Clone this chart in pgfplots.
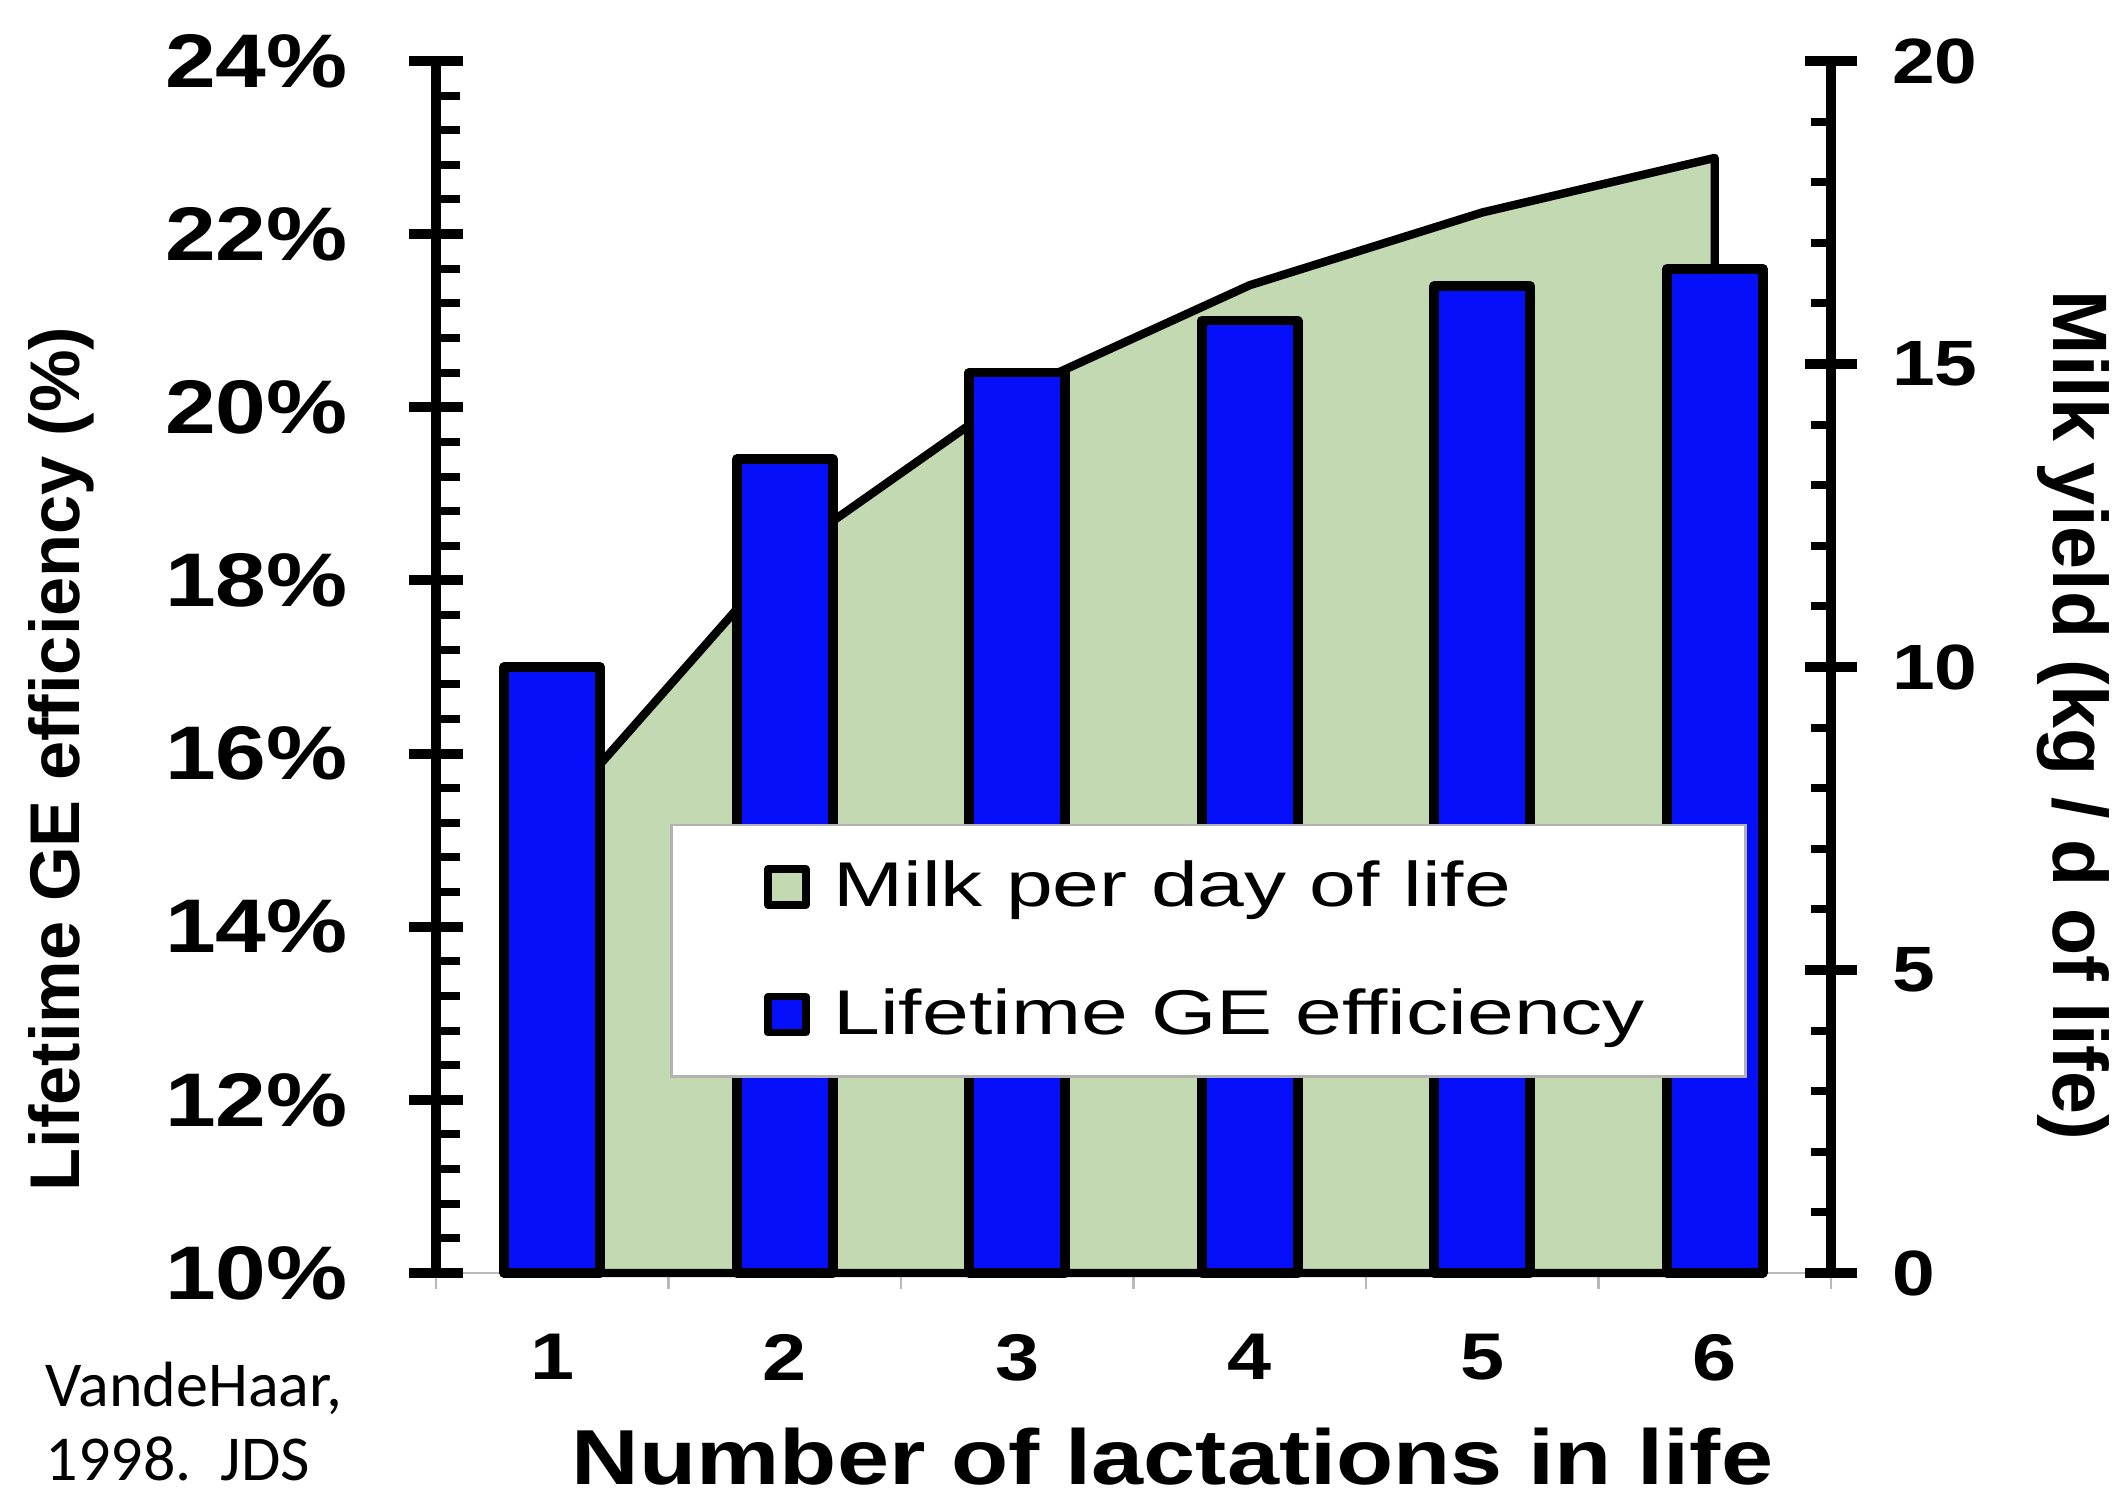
\documentclass[border=0pt]{standalone}
\usepackage{pgfplots}
\pgfplotsset{compat=1.18}
\usepackage{fontspec}
\setmainfont{Liberation Sans}[FakeStretch=1.2]
\newfontfamily\plainfont{Liberation Sans}
\newfontfamily\legfont{Liberation Sans}[FakeStretch=1.33]
\newfontfamily\citefont{Carlito}
\definecolor{areagreen}{RGB}{195,217,178}
\definecolor{barblue}{RGB}{5,15,250}
\pgfplotsset{
  common/.style={
    scale only axis, width=348.75pt, height=303pt,
    at={(0pt,0pt)}, anchor=south west,
    xmin=0.5, xmax=6.5,
    /pgf/number format/assume math mode=true,
  }
}
\begin{document}
\begin{tikzpicture}
\path[use as bounding box] (-109pt,-55.75pt) rectangle (422pt,318.25pt);
% gray baseline with category separators
\begin{axis}[common, ymin=0, ymax=1,
  axis y line=none, axis x line*=bottom,
  x axis line style={draw=gray!55, line width=0.7pt},
  xtick={0.5,1.5,2.5,3.5,4.5,5.5,6.5}, xticklabels={},
  tick align=center, major tick length=8pt,
  major x tick style={draw=gray!55, line width=0.7pt}]
\addplot[draw=none, forget plot] coordinates {(1,0.5)};
\end{axis}
% area on right axis
\begin{axis}[common, ymin=0, ymax=20, clip=false,
  axis x line=none, axis y line*=right,
  ytick={0,5,10,15,20}, minor y tick num=4,
  tick align=center, major tick length=12.8pt, minor tick length=5pt,
  major y tick style={line width=2.5pt, black},
  minor y tick style={xshift=-2.5pt, line width=2pt, black},
  y axis line style={line width=2.5pt, black},
  yticklabel style={anchor=west, inner sep=0pt, xshift=8.7pt, font=\bfseries\fontsize{16}{16}\selectfont},
  ylabel={Milk yield (kg / d of life)},
  every axis y label/.style={at={(axis description cs:1,0.46)}, xshift=60.5pt, rotate=-90, anchor=center, inner sep=0pt, font=\plainfont\bfseries\fontsize{19.3}{20}\selectfont}]
\addplot[fill=areagreen, draw=black, line width=2.1pt, line join=round] coordinates {(1,7.5) (2,11.85) (3,14.55) (4,16.3) (5,17.5) (6,18.4)} \closedcycle;
\end{axis}
% bars on left axis
\begin{axis}[common, ymin=0, ymax=14, clip=false,
  axis y line*=left, axis x line*=bottom,
  x axis line style={draw=none},
  major x tick style={draw=none},
  xtick={1,2,3,4,5,6},
  xticklabel style={anchor=north, inner sep=0pt, yshift=-8.5pt, font=\bfseries\fontsize{16.5}{16.5}\selectfont},
  ytick={0,2,4,6,8,10,12,14},
  yticklabels={10\%,12\%,14\%,16\%,18\%,20\%,22\%,24\%},
  minor y tick num=4,
  tick align=center, major tick length=13.4pt, minor tick length=6pt,
  major y tick style={line width=2.5pt, black},
  minor y tick style={xshift=3pt, line width=2pt, black},
  y axis line style={line width=2.5pt, black},
  yticklabel style={anchor=east, inner sep=0pt, xshift=-15.2pt, font=\bfseries\fontsize{19}{19}\selectfont},
  y filter/.expression={y-10},
  xlabel={Number of lactations in life},
  every axis x label/.style={at={(axis description cs:0.528,0)}, anchor=north, yshift=-38.5pt, inner sep=0pt, font=\bfseries\fontsize{19.5}{19.5}\selectfont},
  ylabel={Lifetime GE efficiency (\%)},
  every axis y label/.style={at={(axis description cs:0,0.424)}, xshift=-93.75pt, rotate=90, anchor=center, inner sep=0pt, font=\plainfont\bfseries\fontsize{17.6}{18}\selectfont},
  legend style={at={(axis description cs:0.168,0.161)}, anchor=south west,
    draw=gray!60, line width=0.6pt, fill=white,
    inner xsep=23.2pt, inner ysep=7pt, row sep=15pt,
    font=\legfont\fontsize{15.8}{15.8}\selectfont,
    /tikz/every odd column/.append style={column sep=4pt}},
  legend cell align=left]
\addlegendimage{legend image code/.code={\draw[line width=1.8pt, fill=areagreen, draw=black, line join=round] (0pt,-4.5pt) rectangle (9.5pt,4.5pt);}}
\addlegendentry{Milk per day of life}
\addlegendimage{legend image code/.code={\draw[line width=1.8pt, fill=barblue, draw=black, line join=round] (0pt,-4.5pt) rectangle (9.5pt,4.5pt);}}
\addlegendentry{Lifetime GE efficiency}
\addplot[ybar, bar width=0.413, fill=barblue, draw=black, line width=2.4pt, line join=round, forget plot] coordinates {(1,17.0) (2,19.4) (3,20.4) (4,21.0) (5,21.4) (6,21.6)};
\end{axis}
\node[anchor=base west, inner sep=0pt, font=\citefont\fontsize{16}{16}\selectfont] at (-97.75pt,-33.5pt) {VandeHaar,};
\node[anchor=base west, inner sep=0pt, font=\citefont\fontsize{16}{16}\selectfont] at (-97.75pt,-52pt) {1998.\ \ JDS};
\end{tikzpicture}
\end{document}
